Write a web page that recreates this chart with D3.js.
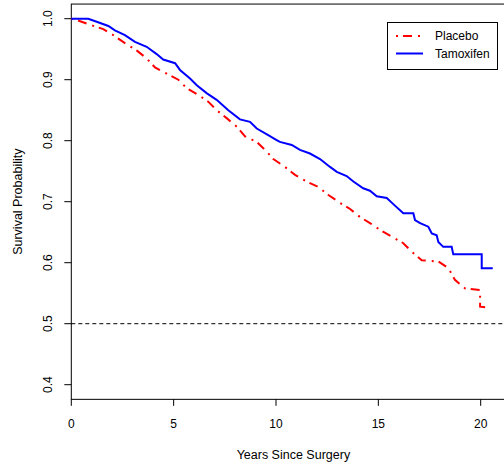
<html lang="en">
<head>
<script src="https://cdn.jsdelivr.net/npm/d3@7"></script>
<style>
body{margin:0;background:#fff;}
svg{display:block;font-family:"Liberation Sans",Arial,sans-serif;}
</style>
</head>
<body>
<div id="drawarea"></div>
<script>
// survival curves: [years, survival] (visible corners of the KM curves)
const tamoxifen=[[0,1.0],[0.83,1.0],[1.24,0.995],[1.81,0.988],[2.13,0.981],[2.62,0.973],[3.11,0.962],[3.68,0.954],[4.17,0.942],[4.49,0.933],[5.07,0.927],[5.31,0.916],[5.80,0.902],[6.13,0.891],[6.61,0.878],[7.10,0.867],[7.67,0.850],[8.24,0.835],[8.73,0.831],[9.06,0.820],[9.62,0.809],[10.03,0.801],[10.19,0.798],[10.77,0.793],[11.17,0.785],[11.66,0.779],[12.15,0.770],[12.64,0.757],[12.97,0.749],[13.45,0.742],[13.78,0.733],[14.26,0.722],[14.59,0.718],[14.92,0.709],[15.41,0.706],[15.73,0.696],[16.22,0.681],[16.71,0.681],[16.79,0.670],[17.04,0.665],[17.44,0.659],[17.61,0.648],[17.85,0.645],[17.93,0.634],[18.17,0.626],[18.58,0.626],[18.66,0.614],[20.05,0.614],[20.05,0.591],[20.59,0.591]]
const placebo=[[0,1.0],[0.26,0.998],[0.91,0.990],[1.56,0.983],[2.05,0.973],[2.62,0.960],[3.19,0.948],[3.68,0.935],[4.09,0.920],[4.66,0.910],[5.23,0.900],[5.64,0.886],[6.20,0.875],[6.69,0.864],[7.10,0.850],[7.59,0.837],[8.08,0.823],[8.49,0.807],[9.06,0.798],[9.55,0.782],[9.87,0.770],[10.44,0.757],[10.93,0.744],[11.50,0.733],[12.07,0.724],[12.56,0.711],[13.13,0.698],[13.62,0.688],[14.10,0.675],[14.59,0.665],[15.16,0.652],[15.65,0.643],[16.22,0.632],[16.63,0.618],[17.12,0.604],[17.93,0.602],[18.42,0.591],[18.74,0.572],[19.23,0.558],[19.97,0.555],[19.97,0.528],[20.46,0.526]]
const xTicks=[0,5,10,15,20]
const yTicks=[0.4,0.5,0.6,0.7,0.8,0.9,1.0]
const legendNames=["Placebo","Tamoxifen"]

const W=504,H=466
const x=d3.scaleLinear().domain([0,20]).range([71.3,480.7])
const y=d3.scaleLinear().domain([0.4,1.0]).range([384.7,18.7])
const pLeft=x(0),pRight=x(21.7),pTop=y(1.024),pBottom=y(0.376)

const svg=d3.select("#drawarea").append("svg").attr("width",W).attr("height",H)

// frame
svg.append("rect").attr("x",pLeft).attr("y",pTop).attr("width",pRight-pLeft).attr("height",pBottom-pTop)
  .attr("fill","none").attr("stroke","#000").attr("stroke-width",1)

// x axis
const gx=svg.append("g")
gx.selectAll("line").data(xTicks).join("line")
  .attr("x1",d=>x(d)).attr("x2",d=>x(d)).attr("y1",pBottom).attr("y2",pBottom+6.5)
  .attr("stroke","#000")
gx.selectAll("text").data(xTicks).join("text")
  .attr("x",d=>x(d)).attr("y",428).attr("text-anchor","middle").attr("font-size",12).text(d=>d)

// y axis
const gy=svg.append("g")
gy.selectAll("line").data(yTicks).join("line")
  .attr("x1",pLeft-7).attr("x2",pLeft).attr("y1",d=>y(d)).attr("y2",d=>y(d))
  .attr("stroke","#000")
gy.selectAll("text").data(yTicks).join("text")
  .attr("transform",d=>"translate(52,"+y(d)+") rotate(-90)")
  .attr("text-anchor","middle").attr("font-size",12).text(d=>d.toFixed(1))

svg.append("text").attr("x",(pLeft+pRight)/2).attr("y",459).attr("text-anchor","middle")
  .attr("font-size",12.5).text("Years Since Surgery")
svg.append("text").attr("transform","translate(22,"+(pTop+pBottom)/2+") rotate(-90)")
  .attr("text-anchor","middle").attr("font-size",12.5).text("Survival Probability")

// reference line at 0.5
svg.append("line").attr("x1",pLeft).attr("x2",pRight).attr("y1",y(0.5)).attr("y2",y(0.5))
  .attr("stroke","#000").attr("stroke-dasharray","4,3")

const line=d3.line().x(d=>x(d[0])).y(d=>y(d[1]))
svg.append("path").datum(placebo).attr("d",line).attr("fill","none")
  .attr("stroke","#ff0000").attr("stroke-width",2).attr("stroke-dasharray","2,5,9,6")
svg.append("path").datum(tamoxifen).attr("d",line).attr("fill","none")
  .attr("stroke","#0000ff").attr("stroke-width",2)

// legend
const lg=svg.append("g")
lg.append("rect").attr("x",387.5).attr("y",22.5).attr("width",110).attr("height",47)
  .attr("fill","#fff").attr("stroke","#000")
const ls=[{c:"#ff0000",dash:"2,5,9,6"},{c:"#0000ff",dash:null}]
legendNames.forEach((n,i)=>{
  const yy=36+i*17.5
  lg.append("line").attr("x1",396).attr("x2",423).attr("y1",yy).attr("y2",yy)
    .attr("stroke",ls[i].c).attr("stroke-width",2).attr("stroke-dasharray",ls[i].dash)
  lg.append("text").attr("x",435).attr("y",yy+4.3).attr("font-size",12).text(n)
})
</script>
</body>
</html>
